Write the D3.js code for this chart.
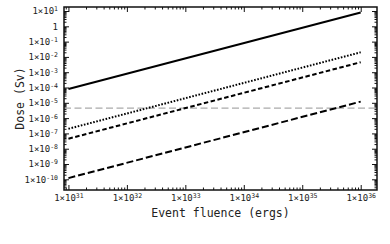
<!DOCTYPE html>
<html>
<head>
<meta charset="utf-8">
<script src="https://cdn.jsdelivr.net/npm/d3@7"></script>
<style>
  body { margin: 0; background: #fff; }
  .tick text { font-family: "DejaVu Sans Mono", monospace; font-size: 9px; fill: #222; }
  .title { font-family: "DejaVu Sans Mono", monospace; font-size: 11.5px; fill: #222; }
</style>
</head>
<body>
<svg class="root"></svg>
<script>
var fluence = [1e31, 1e36];
var doseSolid = [8e-5, 8];
var doseDotted = [2e-7, 2e-2];
var doseDashed = [4.5e-8, 4.5e-3];
var doseLongDash = [1.2e-10, 1.2e-5];
var doseLimit = 4.5e-6;
var xTickExp = [31, 32, 33, 34, 35, 36];
var yTickExp = [1, 0, -1, -2, -3, -4, -5, -6, -7, -8, -9, -10];
var xRange = [8.4e30, 1.9e36];
var yRange = [2e-11, 18.3];

var margin = {top: 7, right: 13, bottom: 54, left: 64},
  width = 390 - margin.left - margin.right,
  height = 244 - margin.top - margin.bottom;

var svg = d3.select(".root")
  .attr("width", 390)
  .attr("height", 244);

var chart = svg.append("g")
  .attr("transform", "translate(" + margin.left + "," + margin.top + ")");

var x = d3.scaleLog().domain(xRange).range([0, width]);
var y = d3.scaleLog().domain(yRange).range([height, 0]);

function minors(lo, hi) {
  var out = [];
  for (var e = lo; e <= hi; e++) {
    for (var m = 2; m <= 9; m++) out.push(m * Math.pow(10, e));
  }
  return out;
}
var xMinor = minors(30, 36).filter(function(v) { return v > xRange[0] && v < xRange[1]; });
var yMinor = minors(-11, 1).filter(function(v) { return v > yRange[0] && v < yRange[1]; });
var xMajor = xTickExp.map(function(e) { return Math.pow(10, e); });
var yMajor = yTickExp.map(function(e) { return Math.pow(10, e); });

function label(sel, exps) {
  sel.selectAll(".tick text").each(function(d, i) {
    var t = d3.select(this).text(null), e = exps[i];
    if (e === 0) { t.text("1"); return; }
    t.append("tspan").text("1\u00d710");
    t.append("tspan").attr("dy", "-0.45em").style("font-size", "6.5px").text(e);
  });
}

// minor ticks, all four sides
chart.append("g").attr("transform", "translate(0," + height + ")")
  .call(d3.axisBottom(x).tickValues(xMinor).tickSize(-2.5).tickFormat(""));
chart.append("g")
  .call(d3.axisTop(x).tickValues(xMinor).tickSize(-2.5).tickFormat(""));
chart.append("g")
  .call(d3.axisLeft(y).tickValues(yMinor).tickSize(-2.5).tickFormat(""));
chart.append("g").attr("transform", "translate(" + width + ",0)")
  .call(d3.axisRight(y).tickValues(yMinor).tickSize(-2.5).tickFormat(""));

// major ticks
chart.append("g").attr("class", "x axis")
  .attr("transform", "translate(0," + height + ")")
  .call(d3.axisBottom(x).tickValues(xMajor).tickSize(-5).tickPadding(5))
  .call(label, xTickExp);
chart.append("g")
  .call(d3.axisTop(x).tickValues(xMajor).tickSize(-5).tickFormat(""));
chart.append("g").attr("class", "y axis")
  .call(d3.axisLeft(y).tickValues(yMajor).tickSize(-5).tickPadding(6))
  .call(label, yTickExp);
chart.append("g").attr("transform", "translate(" + width + ",0)")
  .call(d3.axisRight(y).tickValues(yMajor).tickSize(-5).tickFormat(""));

chart.selectAll(".domain").remove();
chart.selectAll(".tick line").attr("stroke", "#111").attr("stroke-width", 1);

chart.append("line")
  .attr("x1", 0).attr("x2", width)
  .attr("y1", y(doseLimit)).attr("y2", y(doseLimit))
  .attr("stroke", "#aaa").attr("stroke-width", 1.3)
  .attr("stroke-dasharray", "7,3.5");

var line = d3.line()
  .x(function(d) { return x(d[0]); })
  .y(function(d) { return y(d[1]); });

var series = [
  {v: doseSolid, dash: null, w: 2},
  {v: doseDotted, dash: "1.6,1.6", w: 2},
  {v: doseDashed, dash: "4.5,2.5", w: 2},
  {v: doseLongDash, dash: "7,3", w: 2}
];

chart.selectAll(".series")
    .data(series)
  .enter().append("path")
    .attr("class", "series")
    .attr("d", function(s) { return line(d3.zip(fluence, s.v)); })
    .attr("fill", "none")
    .attr("stroke", "#000")
    .attr("stroke-width", function(s) { return s.w; })
    .attr("stroke-dasharray", function(s) { return s.dash; });

chart.append("rect")
  .attr("width", width).attr("height", height)
  .attr("fill", "none").attr("stroke", "#111").attr("stroke-width", 1.5);

svg.append("text").attr("class", "title")
  .attr("x", margin.left + width / 2).attr("y", 217)
  .attr("text-anchor", "middle")
  .text("Event fluence (ergs)");

svg.append("text").attr("class", "title")
  .attr("transform", "translate(24," + (margin.top + height / 2) + ") rotate(-90)")
  .attr("text-anchor", "middle")
  .text("Dose (Sv)");
</script>
</body>
</html>
